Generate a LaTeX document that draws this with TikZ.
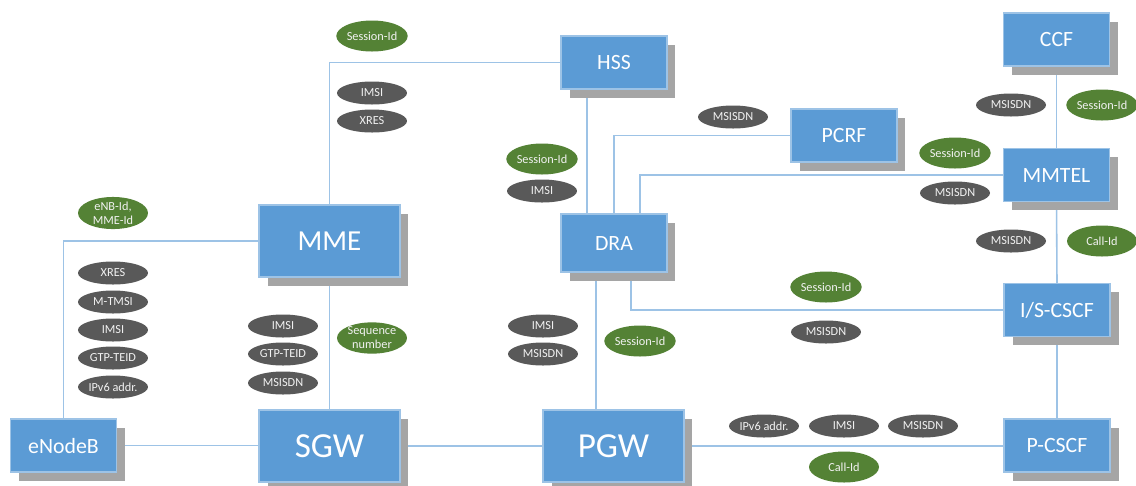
\documentclass[tikz,border=0pt]{standalone}
\usepackage{fontspec}
\setmainfont{Carlito}
\usetikzlibrary{shapes.geometric,shadows,calc,backgrounds}

\definecolor{boxblue}{HTML}{5B9BD5}
\definecolor{boxedge}{HTML}{9DC3E6}
\definecolor{linkblue}{HTML}{9DC3E6}
\definecolor{tagGray}{HTML}{595959}
\definecolor{tagGreen}{HTML}{548235}
\definecolor{shadowgray}{HTML}{A5A5A5}

\tikzset{
  nf/.style={rectangle, fill=boxblue, draw=boxedge, line width=0.6pt,
    text=white, inner sep=0pt,
    drop shadow={shadow xshift=0.17cm, shadow yshift=-0.17cm, fill=shadowgray, opacity=1}},
  smallnf/.style={nf, minimum width=2.12cm, minimum height=1.06cm,
    font=\fontsize{12.4}{14}\selectfont},
  midnf/.style={nf, minimum width=2.82cm, minimum height=1.44cm,
    font=\fontsize{16.5}{18}\selectfont},
  bignf/.style={nf, minimum width=2.82cm, minimum height=1.44cm,
    font=\fontsize{20}{22}\selectfont},
  tag/.style={ellipse, inner sep=0pt, minimum width=1.4cm,
    text=white!90!gray, font=\fontsize{7}{8}\selectfont, align=center},
  idtag/.style={tag, fill=tagGray, minimum height=0.46cm},
  keytag/.style={tag, fill=tagGreen, minimum height=0.62cm},
  link/.style={draw=linkblue, line width=0.9pt},
}

\begin{document}
\begin{tikzpicture}[x=0.02cm, y=-0.02cm]
  \useasboundingbox (0,0) rectangle (1136,485);

  % network functions
  \node[smallnf] (enb)   at (63.5,445.5)  {eNodeB};
  \node[midnf]   (mme)   at (329.5,241)   {MME};
  \node[bignf]   (sgw)   at (329.5,446)   {SGW};
  \node[smallnf] (hss)   at (614,62.5)    {HSS};
  \node[smallnf, minimum height=1.16cm] (dra) at (614,243) {DRA};
  \node[bignf]   (pgw)   at (613.5,446)   {PGW};
  \node[smallnf] (pcrf)  at (844,135.5)   {PCRF};
  \node[smallnf] (ccf)   at (1056.5,39.5) {CCF};
  \node[smallnf] (mmtel) at (1056.5,175)  {MMTEL};
  \node[smallnf] (iscscf) at (1057,310)   {I/S-CSCF};
  \node[smallnf] (pcscf) at (1057,445.5)  {P-CSCF};

  % page and interfaces, behind the boxes
  \begin{pgfonlayer}{background}
    \fill[white] (0,0) rectangle (1136,485);
    \draw[link] (mme.north) |- (hss.west);
    \draw[link] (mme.west) -| (enb.north);
    \draw[link] (mme.south) -- (sgw.north);
    \draw[link] (enb.east) -- (enb.east -| sgw.west);
    \draw[link] (sgw.east) -- (sgw.east -| pgw.west);
    \draw[link] (pgw.east) -- (pgw.east -| pcscf.west);
    \draw[link] ($(hss.south)+(-27,0)$) -- ($(dra.north)+(-27,0)$);
    \draw[link] (dra.north) |- (pcrf.west);
    \draw[link] ($(dra.north)+(26,0)$) |- (mmtel.west);
    \draw[link] ($(dra.south)+(17,0)$) |- (iscscf.west);
    \draw[link] ($(dra.south)+(-18,0)$) -- ($(pgw.north)+(-17.5,0)$);
    \draw[link] (ccf.south) -- (mmtel.north);
    \draw[link] (mmtel.south) -- (iscscf.north);
    \draw[link] (iscscf.south) -- (pcscf.north);
  \end{pgfonlayer}

  % S1-MME
  \node[keytag] (t1) at (113,213) {eNB-Id,\\MME-Id};
  \node[idtag] (t2) at (113,273) {XRES};
  \node[idtag] (t3) at (113,302) {M-TMSI};
  \node[idtag] (t4) at (113,330) {IMSI};
  \node[idtag] (t5) at (113,358) {GTP-TEID};
  \node[idtag] (t6) at (113,387) {IPv6 addr.};

  % S11
  \node[idtag] (t7) at (283,326) {IMSI};
  \node[idtag] (t8) at (283,354) {GTP-TEID};
  \node[idtag] (t9) at (283,383) {MSISDN};
  \node[keytag] (t10) at (372,338) {Sequence\\number};

  % S6a
  \node[keytag] (t11) at (372,36) {Session-Id};
  \node[idtag] (t12) at (372,93) {IMSI};
  \node[idtag] (t13) at (372,121) {XRES};

  % HSS - DRA
  \node[keytag] (t14) at (542,159) {Session-Id};
  \node[idtag] (t15) at (542,191) {IMSI};

  % Gx / Rx / Ro
  \node[idtag] (t16) at (733,117) {MSISDN};
  \node[keytag] (t17) at (955,153) {Session-Id};
  \node[idtag] (t18) at (955,193) {MSISDN};
  \node[idtag] (t19) at (1011,105) {MSISDN};
  \node[keytag] (t20) at (1102,105) {Session-Id};
  \node[idtag] (t21) at (1011,241) {MSISDN};
  \node[keytag] (t22) at (1102,241) {Call-Id};

  % Cx / DRA - CSCF
  \node[keytag] (t23) at (826,287) {Session-Id};
  \node[idtag] (t24) at (826,332) {MSISDN};

  % S5 / DRA - PGW
  \node[idtag] (t25) at (543,326) {IMSI};
  \node[idtag] (t26) at (543,354) {MSISDN};
  \node[keytag] (t27) at (640,341) {Session-Id};

  % SGi
  \node[idtag] (t28) at (764,426) {IPv6 addr.};
  \node[idtag] (t29) at (844,426) {IMSI};
  \node[idtag] (t30) at (923,426) {MSISDN};
  \node[keytag] (t31) at (844,467) {Call-Id};
\end{tikzpicture}
\end{document}
